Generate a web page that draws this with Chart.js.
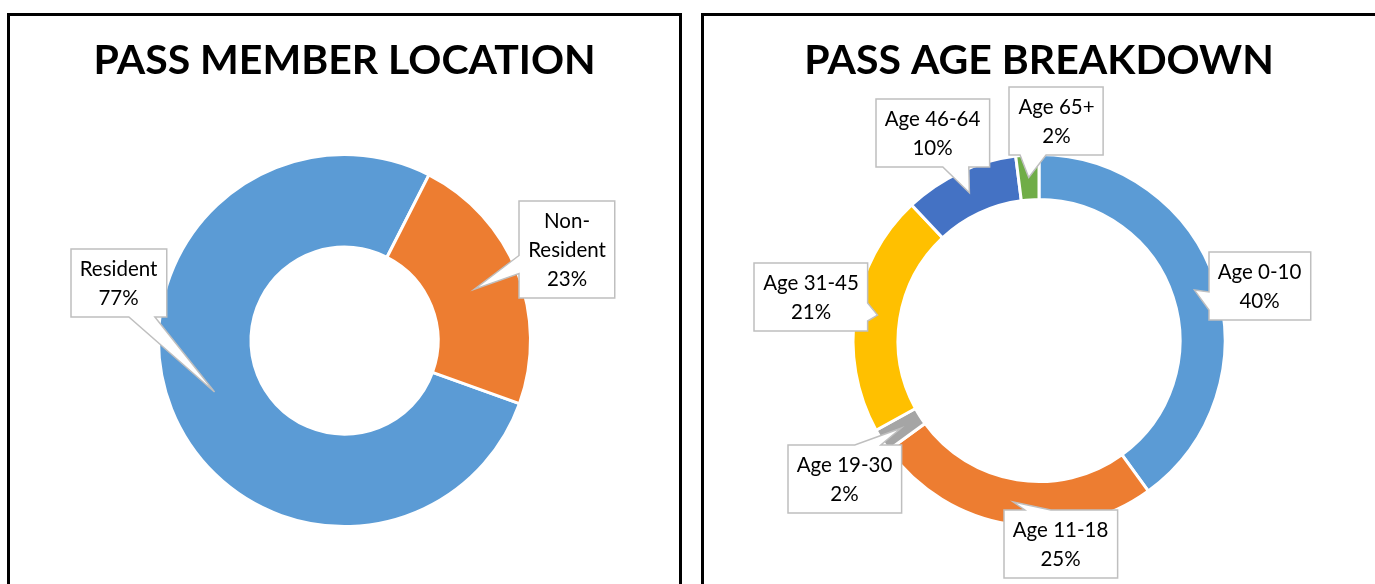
<!DOCTYPE html>
<html>
<head>
<meta charset="utf-8">
<script src="https://cdn.jsdelivr.net/npm/chart.js@4.4.0/dist/chart.umd.min.js"></script>
<style>
  body { margin: 0; background: #fff; width: 1375px; height: 584px; overflow: hidden; position: relative; }
  .panel { position: absolute; top: 13px; height: 620px; border: 3px solid #000; box-sizing: border-box; background: #fff; }
  #panelLocation { left: 7px; width: 675px; }
  #panelAge { left: 701px; width: 678px; }
  canvas { position: absolute; left: 0; top: 0; }
</style>
</head>
<body>
<div class="panel" id="panelLocation"><canvas id="chartLocation" width="669" height="568"></canvas></div>
<div class="panel" id="panelAge"><canvas id="chartAge" width="670" height="568"></canvas></div>
<script>
// data
const locationLabels = ['Resident', 'Non-Resident'];
const locationValues = [77, 23];
const ageLabels = ['Age 0-10', 'Age 11-18', 'Age 19-30', 'Age 31-45', 'Age 46-64', 'Age 65+'];
const ageValues = [40, 25, 2, 21, 10, 2];

// callout box centres, offset from the ring centre
const locationBoxes = [[-226, -57.5], [222.5, -91]];
const ageBoxes = [[220.5, -55], [21.5, 203.5], [-194.5, 138.5], [-228, -43.5], [-106.5, -208], [17.5, -219.5]];

const LABEL_FONT = '20.5px Lato';
const LINE_H = 29;

function wrapLabel(ctx, text, maxW) {
    if (ctx.measureText(text).width <= maxW) return [text];
    const cut = text.indexOf('-') + 1;
    return cut > 0 ? [text.slice(0, cut), text.slice(cut)] : [text];
}

function calloutPath(ctx, l, t, r, b, tip) {
    const cx = (l + r) / 2, cy = (t + b) / 2;
    const ox = tip.x < l ? l - tip.x : (tip.x > r ? tip.x - r : 0);
    const oy = tip.y < t ? t - tip.y : (tip.y > b ? tip.y - b : 0);
    let edge;
    if (oy >= ox) edge = tip.y < cy ? 'top' : 'bottom';
    else edge = tip.x < cx ? 'left' : 'right';
    const sx = tip.x >= cx ? 1 : -1;
    const sy = tip.y >= cy ? 1 : -1;
    const hx = [cx + sx * 10, cx + sx * 36].sort((a, c) => a - c);
    const hy = [cy + sy * 6, cy + sy * 24].sort((a, c) => a - c);

    ctx.beginPath();
    ctx.moveTo(l, t);
    if (edge === 'top') { ctx.lineTo(hx[0], t); ctx.lineTo(tip.x, tip.y); ctx.lineTo(hx[1], t); }
    ctx.lineTo(r, t);
    if (edge === 'right') { ctx.lineTo(r, hy[0]); ctx.lineTo(tip.x, tip.y); ctx.lineTo(r, hy[1]); }
    ctx.lineTo(r, b);
    if (edge === 'bottom') { ctx.lineTo(hx[1], b); ctx.lineTo(tip.x, tip.y); ctx.lineTo(hx[0], b); }
    ctx.lineTo(l, b);
    if (edge === 'left') { ctx.lineTo(l, hy[1]); ctx.lineTo(tip.x, tip.y); ctx.lineTo(l, hy[0]); }
    ctx.closePath();
}

const calloutPlugin = {
    id: 'callouts',
    afterDatasetsDraw(chart, args, opts) {
        const ctx = chart.ctx;
        const meta = chart.getDatasetMeta(0);
        const values = chart.data.datasets[0].data;
        ctx.save();
        ctx.font = LABEL_FONT;
        meta.data.forEach((arc, i) => {
            const tip = arc.getCenterPoint();
            const cx = arc.x + opts.boxes[i][0];
            const cy = arc.y + opts.boxes[i][1];
            const lines = wrapLabel(ctx, chart.data.labels[i], opts.wrapWidth);
            lines.push(values[i] + '%');
            const w = Math.max(...lines.map(s => ctx.measureText(s).width)) + 18;
            const h = lines.length * LINE_H + 10;
            const l = Math.round(cx - w / 2), t = Math.round(cy - h / 2);

            calloutPath(ctx, l, t, l + w, t + h, tip);
            ctx.fillStyle = '#ffffff';
            ctx.fill();
            ctx.lineWidth = 1.5;
            ctx.strokeStyle = '#bfbfbf';
            ctx.stroke();

            ctx.fillStyle = '#000000';
            ctx.textAlign = 'center';
            ctx.textBaseline = 'middle';
            lines.forEach((s, k) => {
                ctx.fillText(s, cx, cy + (k - (lines.length - 1) / 2) * LINE_H + 1);
            });
        });
        ctx.restore();
    }
};

function makeDonut(id, title, labels, values, colors, rotation, cutout, boxes, wrapWidth) {
    return new Chart(document.getElementById(id), {
        type: 'doughnut',
        data: {
            labels: labels,
            datasets: [{
                data: values,
                backgroundColor: colors,
                borderColor: '#ffffff',
                borderWidth: 3,
                radius: 186,
                cutout: cutout
            }]
        },
        options: {
            responsive: false,
            animation: false,
            rotation: rotation,
            layout: { padding: 0 },
            plugins: {
                legend: { display: false },
                tooltip: { enabled: false },
                title: {
                    display: true,
                    text: title,
                    color: '#000000',
                    font: { family: 'Lato', size: 41, weight: 'bold' },
                    padding: { top: 20, bottom: 12 }
                },
                callouts: { boxes: boxes, wrapWidth: wrapWidth }
            }
        },
        plugins: [calloutPlugin]
    });
}

makeDonut('chartLocation', 'PASS MEMBER LOCATION', locationLabels, locationValues,
    ['#5B9BD5', '#ED7D31'], 109.8, '50.3%', locationBoxes, 100);

makeDonut('chartAge', 'PASS AGE BREAKDOWN', ageLabels, ageValues,
    ['#5B9BD5', '#ED7D31', '#A5A5A5', '#FFC000', '#4472C4', '#70AD47'], 0, '75.8%', ageBoxes, 200);
</script>
</body>
</html>
